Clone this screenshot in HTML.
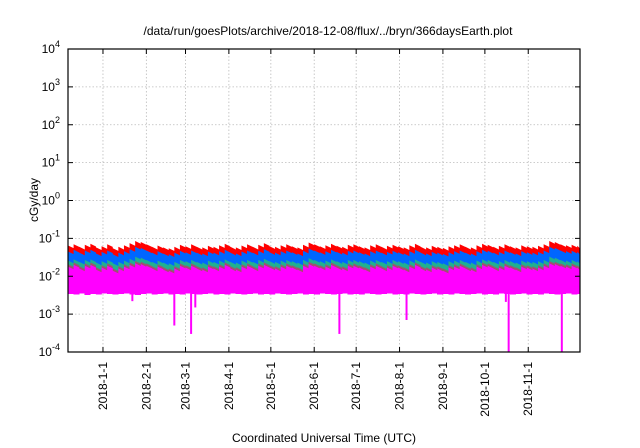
<!DOCTYPE html>
<html><head><meta charset="utf-8"><style>
body{margin:0;background:#fff;}
svg{display:block;font-family:"Liberation Sans",sans-serif;}
</style></head><body>
<svg id="chart" width="640" height="448" viewBox="0 0 640 448">
<text x="328" y="35" font-size="12" text-anchor="middle">/data/run/goesPlots/archive/2018-12-08/flux/../bryn/366daysEarth.plot</text>
<text transform="translate(38,200) rotate(-90)" font-size="12" text-anchor="middle">cGy/day</text>
<text x="324" y="442" font-size="12" text-anchor="middle">Coordinated Universal Time (UTC)</text>
<g id="grid"></g><g id="series"></g><g id="axes"></g>
</svg>
<script>
const yTicks=[-4,-3,-2,-1,0,1,2,3,4];
const xTickLabels=["2018-1-1","2018-2-1","2018-3-1","2018-4-1","2018-5-1","2018-6-1","2018-7-1","2018-8-1","2018-9-1","2018-10-1","2018-11-1"];
const xTickDays=[25,56,84,115,145,176,206,237,268,298,329];
// values sampled every 4 days (92 samples)
const redTop=[0.065,0.07,0.06,0.068,0.072,0.058,0.062,0.07,0.055,0.06,0.066,0.075,0.085,0.08,0.07,0.06,0.065,0.058,0.055,0.06,0.068,0.062,0.07,0.06,0.058,0.064,0.06,0.066,0.072,0.06,0.058,0.065,0.07,0.06,0.068,0.075,0.062,0.06,0.066,0.07,0.062,0.058,0.068,0.078,0.07,0.062,0.066,0.072,0.064,0.06,0.068,0.07,0.062,0.058,0.066,0.07,0.06,0.064,0.068,0.062,0.058,0.066,0.072,0.06,0.058,0.064,0.06,0.056,0.062,0.066,0.07,0.06,0.058,0.066,0.072,0.068,0.06,0.064,0.07,0.062,0.058,0.066,0.062,0.06,0.064,0.07,0.085,0.08,0.07,0.066,0.068,0.064];
const blueTop=[0.045,0.05,0.042,0.048,0.05,0.04,0.044,0.048,0.038,0.042,0.046,0.052,0.06,0.056,0.048,0.042,0.046,0.04,0.038,0.042,0.047,0.043,0.048,0.042,0.04,0.045,0.042,0.046,0.05,0.042,0.04,0.045,0.048,0.042,0.047,0.052,0.043,0.042,0.046,0.048,0.043,0.04,0.047,0.054,0.048,0.043,0.046,0.05,0.044,0.042,0.047,0.048,0.043,0.04,0.046,0.048,0.042,0.044,0.047,0.043,0.04,0.046,0.05,0.042,0.04,0.044,0.042,0.039,0.043,0.046,0.048,0.042,0.04,0.046,0.05,0.047,0.042,0.044,0.048,0.043,0.04,0.046,0.043,0.042,0.044,0.048,0.06,0.056,0.048,0.046,0.047,0.044];
const greenTop=[0.026,0.028,0.024,0.027,0.028,0.023,0.025,0.027,0.022,0.024,0.026,0.029,0.033,0.031,0.027,0.024,0.026,0.023,0.022,0.024,0.027,0.025,0.027,0.024,0.023,0.026,0.024,0.026,0.028,0.024,0.023,0.026,0.027,0.024,0.027,0.029,0.025,0.024,0.026,0.027,0.025,0.023,0.027,0.03,0.027,0.025,0.026,0.028,0.025,0.024,0.027,0.027,0.025,0.023,0.026,0.027,0.024,0.025,0.027,0.025,0.023,0.026,0.028,0.024,0.023,0.025,0.024,0.022,0.025,0.026,0.027,0.024,0.023,0.026,0.028,0.027,0.024,0.025,0.027,0.025,0.023,0.026,0.025,0.024,0.025,0.027,0.033,0.031,0.027,0.026,0.027,0.025];
const magentaTop=[0.018,0.02,0.016,0.019,0.02,0.015,0.017,0.019,0.014,0.016,0.018,0.02,0.022,0.021,0.019,0.016,0.018,0.015,0.014,0.016,0.019,0.017,0.019,0.016,0.015,0.018,0.016,0.018,0.02,0.016,0.015,0.018,0.019,0.016,0.019,0.02,0.017,0.016,0.018,0.019,0.017,0.015,0.019,0.021,0.019,0.017,0.018,0.02,0.017,0.016,0.019,0.019,0.017,0.015,0.018,0.019,0.016,0.017,0.019,0.017,0.015,0.018,0.02,0.016,0.015,0.017,0.016,0.014,0.017,0.018,0.019,0.016,0.015,0.018,0.02,0.019,0.016,0.017,0.019,0.017,0.015,0.018,0.017,0.016,0.017,0.019,0.022,0.021,0.019,0.018,0.019,0.017];
const magentaBase=[0.0034,0.0033,0.0035,0.0032,0.0034,0.0033,0.0035,0.0034,0.0033,0.0034,0.0035,0.0033,0.0032,0.0034,0.0035,0.0033,0.0034,0.0035,0.0033,0.0034,0.0033,0.0035,0.0034,0.0033,0.0034,0.0035,0.0033,0.0034,0.0033,0.0035,0.0034,0.0033,0.0034,0.0035,0.0033,0.0034,0.0033,0.0035,0.0034,0.0033,0.0034,0.0035,0.0033,0.0034,0.0033,0.0035,0.0034,0.0033,0.0034,0.0035,0.0033,0.0034,0.0033,0.0035,0.0034,0.0033,0.0034,0.0035,0.0033,0.0034,0.0033,0.0035,0.0034,0.0033,0.0034,0.0035,0.0033,0.0034,0.0033,0.0035,0.0034,0.0033,0.0034,0.0035,0.0033,0.0034,0.0033,0.0035,0.0034,0.0033,0.0034,0.0035,0.0033,0.0034,0.0033,0.0035,0.0034,0.0033,0.0034,0.0035,0.0033,0.0034];
const dipDays=[46,76,88,91,194,242,313,315,353];
const dipValues=[0.0022,0.0005,0.0003,0.0015,0.0003,0.0007,0.0021,0.0001,0.0001];
const step=4;
const X0=68,X1=580,Y0=352,Y1=49,NDAYS=366;
const NS="http://www.w3.org/2000/svg";
function xs(d){return X0+(d/NDAYS)*(X1-X0);}
function ys(v){return Y0-(Math.log10(v)+4)/8*(Y0-Y1);}
function mk(tag,attrs,parent){const e=document.createElementNS(NS,tag);for(const k in attrs)e.setAttribute(k,attrs[k]);parent.appendChild(e);return e;}
const grid=document.getElementById('grid'),ser=document.getElementById('series'),ax=document.getElementById('axes');
yTicks.forEach((t,i)=>{
  const y=ys(Math.pow(10,t));
  if(i>0&&i<yTicks.length-1){const g=mk('line',{x1:X0,x2:X1,y1:y,y2:y,stroke:'#bbb','stroke-dasharray':'1.5,2','stroke-width':0.8},grid);
  
  }
  const tk=mk('path',{d:`M${X0},${y}h5M${X1},${y}h-5`,stroke:'#000'},ax);
  
  
  const tx=mk('text',{x:X0-8,y:y+4,'font-size':12,'text-anchor':'end'},ax);
  
  
  tx.appendChild(document.createTextNode('10'));
  const s=mk('tspan',{dy:-6,'font-size':9},tx);s.textContent=String(t);
});
xTickDays.forEach((d,i)=>{
  const x=xs(d);
  const g=mk('line',{x1:x,x2:x,y1:Y1,y2:Y0,stroke:'#bbb','stroke-dasharray':'1.5,2','stroke-width':0.8},grid);
  
  
  const tk=mk('path',{d:`M${x},${Y0}v-5M${x},${Y1}v5`,stroke:'#000'},ax);
  
  
  const tx=mk('text',{transform:`translate(${x+4},${Y0+10}) rotate(-90)`,'font-size':12,'text-anchor':'end'},ax);
  
  
  tx.textContent=xTickLabels[i];
});
const fr=mk('rect',{x:X0,y:Y1,width:X1-X0,height:Y0-Y1,fill:'none',stroke:'#000','stroke-width':1.2},ax);


function band(top,base,color,name){
  let pts=[];
  top.forEach((v,i)=>{const d=Math.min(i*step,NDAYS);pts.push(xs(d)+','+ys(v));pts.push(xs(Math.min(d+step,NDAYS))+','+ys(v*0.85));});
  for(let i=base.length-1;i>=0;i--){const d=Math.min(i*step,NDAYS);pts.push(xs(Math.min(d+step,NDAYS))+','+ys(base[i]));pts.push(xs(d)+','+ys(base[i]));}
  const p=mk('polygon',{points:pts.join(' '),fill:color},ser);
  
  
}
band(redTop,magentaBase,'#ff0000','series-red');
band(blueTop,magentaBase,'#0066ff','series-blue');
band(greenTop,magentaBase,'#20b090','series-green');
band(magentaTop.map(v=>v*1.15),magentaBase,'#a05070','series-brown');
band(magentaTop,magentaBase,'#ff00ff','series-magenta');
dipDays.forEach((d,i)=>{
  const x=xs(d);
  const l=mk('line',{x1:x,x2:x,y1:ys(0.004),y2:Math.min(ys(dipValues[i]),Y0),stroke:'#ff00ff','stroke-width':2},ser);
  
  
});
</script>
</body></html>
